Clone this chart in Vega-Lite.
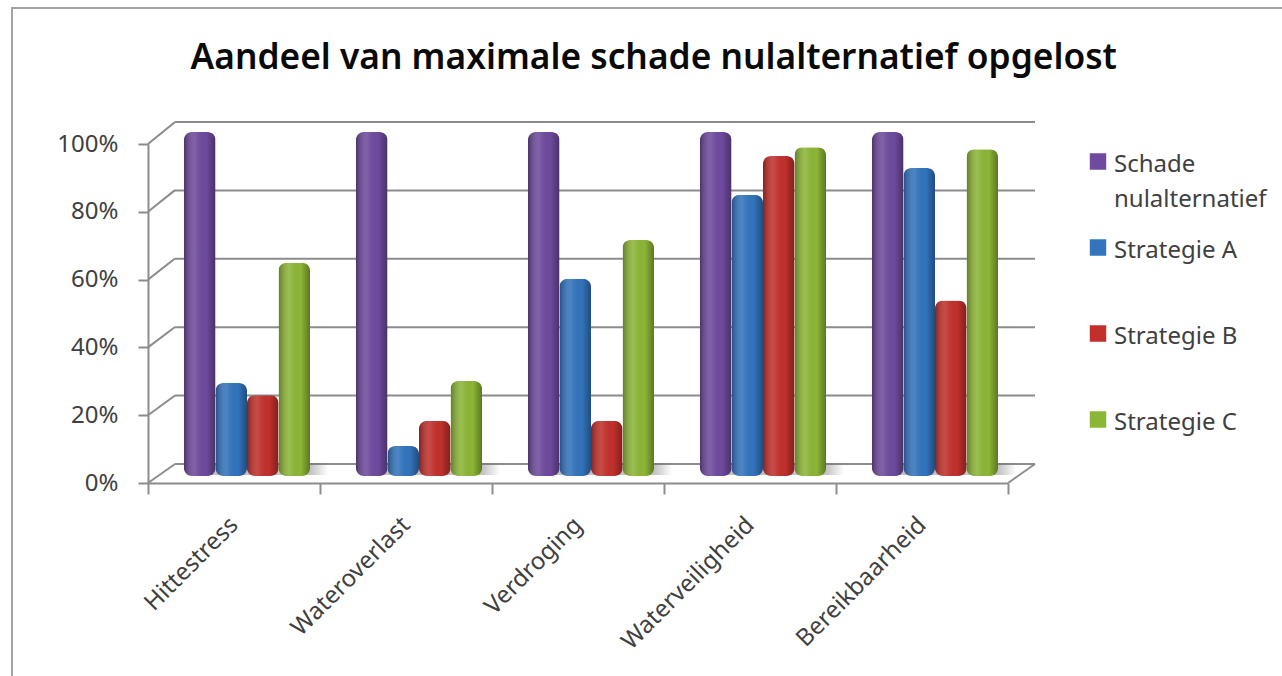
{
"$schema":"https://vega.github.io/schema/vega-lite/v6.json",
"autosize":{"type":"none"},
"padding":{"left":12,"top":8,"right":0,"bottom":0},
"width":1290,"height":680,
"background":"#ffffff",
"title":{"text":"Aandeel van maximale schade nulalternatief opgelost","anchor":"start","dx":187,"offset":-68,"font":"Noto Sans","fontSize":35.3,"fontWeight":600,"color":"#0a0a0a"},
"config":{"view":{"stroke":"#a3a3a3","strokeWidth":2},"style":{"guide-label":{"lineHeight":35}}},
"datasets":{
"bars":[
{"onderdeel":"Hittestress","reeks":"Schade nulalternatief","aandeel":1.0},
{"onderdeel":"Hittestress","reeks":"Strategie A","aandeel":0.27},
{"onderdeel":"Hittestress","reeks":"Strategie B","aandeel":0.235},
{"onderdeel":"Hittestress","reeks":"Strategie C","aandeel":0.62},
{"onderdeel":"Wateroverlast","reeks":"Schade nulalternatief","aandeel":1.0},
{"onderdeel":"Wateroverlast","reeks":"Strategie A","aandeel":0.087},
{"onderdeel":"Wateroverlast","reeks":"Strategie B","aandeel":0.16},
{"onderdeel":"Wateroverlast","reeks":"Strategie C","aandeel":0.276},
{"onderdeel":"Verdroging","reeks":"Schade nulalternatief","aandeel":1.0},
{"onderdeel":"Verdroging","reeks":"Strategie A","aandeel":0.573},
{"onderdeel":"Verdroging","reeks":"Strategie B","aandeel":0.16},
{"onderdeel":"Verdroging","reeks":"Strategie C","aandeel":0.686},
{"onderdeel":"Waterveiligheid","reeks":"Schade nulalternatief","aandeel":1.0},
{"onderdeel":"Waterveiligheid","reeks":"Strategie A","aandeel":0.817},
{"onderdeel":"Waterveiligheid","reeks":"Strategie B","aandeel":0.93},
{"onderdeel":"Waterveiligheid","reeks":"Strategie C","aandeel":0.956},
{"onderdeel":"Bereikbaarheid","reeks":"Schade nulalternatief","aandeel":1.0},
{"onderdeel":"Bereikbaarheid","reeks":"Strategie A","aandeel":0.895},
{"onderdeel":"Bereikbaarheid","reeks":"Strategie B","aandeel":0.51},
{"onderdeel":"Bereikbaarheid","reeks":"Strategie C","aandeel":0.95}
],
"cats":[{"onderdeel":"Hittestress"},{"onderdeel":"Wateroverlast"},{"onderdeel":"Verdroging"},{"onderdeel":"Waterveiligheid"},{"onderdeel":"Bereikbaarheid"}],
"grid":[{"level":0},{"level":0.2},{"level":0.4},{"level":0.6},{"level":0.8},{"level":1}],
"diag":[
{"a":0,"b":0.157,"level":0,"back":0.056},
{"a":0,"b":0.157,"level":0.2,"back":0.258},
{"a":0,"b":0.157,"level":0.4,"back":0.46},
{"a":0,"b":0.157,"level":0.6,"back":0.662},
{"a":0,"b":0.157,"level":0.8,"back":0.864},
{"a":0,"b":0.157,"level":1,"back":1.065},
{"a":5,"b":5.157,"level":0,"back":0.056}
]
},
"resolve":{"scale":{"x":"independent","y":"independent"},"axis":{"x":"independent","y":"independent"}},
"layer":[
{"data":{"name":"grid"},
 "mark":{"type":"rule","color":"#8c8c8c","strokeWidth":2},
 "encoding":{
  "x":{"datum":0.157,"type":"quantitative","scale":{"domain":[0,5.157],"range":[136,1023]},"axis":null},
  "x2":{"datum":5.157},
  "y":{"field":"level","type":"quantitative","scale":{"domain":[0,1],"range":[456,114]},"axis":null}
 }},
{"data":{"name":"diag"},
 "mark":{"type":"rule","color":"#8c8c8c","strokeWidth":2},
 "encoding":{
  "x":{"field":"a","type":"quantitative","scale":{"domain":[0,5.157],"range":[136,1023]},"axis":null},
  "x2":{"field":"b"},
  "y":{"field":"level","type":"quantitative","scale":{"domain":[0,1],"range":[475,136]},
   "axis":{"values":[0,0.2,0.4,0.6,0.8,1],"format":".0%","orient":"left","offset":-136,"title":null,"grid":false,"domainColor":"#8c8c8c","domainWidth":2,"tickColor":"#8c8c8c","tickWidth":2,"tickSize":10,"labelFont":"Noto Sans","labelFontSize":24,"labelColor":"#404040","labelPadding":20}},
  "y2":{"field":"back"}
 }},
{"data":{"name":"cats"},
 "mark":{"type":"bar","fill":{"gradient":"linear","x1":0,"x2":1,"y1":0,"y2":0,"stops":[{"offset":0,"color":"rgba(110,110,110,0.42)"},{"offset":0.86,"color":"rgba(110,110,110,0.42)"},{"offset":1,"color":"rgba(110,110,110,0)"}]}},
 "encoding":{
  "x":{"field":"onderdeel","type":"nominal","sort":null,"scale":{"range":[167,1027],"paddingInner":0.267,"paddingOuter":0.1335},"axis":null},
  "y":{"datum":0,"type":"quantitative","scale":{"domain":[0,1],"range":[467,124]},"axis":null},
  "y2":{"datum":0.035}
 }},
{"data":{"name":"bars"},
 "mark":{"type":"bar","cornerRadius":8},
 "encoding":{
  "x":{"field":"onderdeel","type":"nominal","sort":["Hittestress","Wateroverlast","Verdroging","Waterveiligheid","Bereikbaarheid"],"scale":{"range":[149,1009],"paddingInner":0.267,"paddingOuter":0.1335},"axis":null},
  "xOffset":{"field":"reeks","type":"nominal","sort":["Schade nulalternatief","Strategie A","Strategie B","Strategie C"]},
  "y":{"field":"aandeel","type":"quantitative","scale":{"domain":[0,1],"range":[468,124]},"axis":null},
  "color":{"field":"reeks","type":"nominal","sort":["Schade nulalternatief","Strategie A","Strategie B","Strategie C"],
   "scale":{"domain":["Schade nulalternatief","Strategie A","Strategie B","Strategie C"],"range":["#6f4a9e","#3374bd","#c2302c","#8cb636"]},
   "legend":{"title":null,"orient":"none","legendX":1074,"legendY":120.5,"symbolType":"M-1,-2.22H1V-0.22H-1Z","symbolSize":270,"symbolStrokeWidth":0,"symbolOpacity":1,"labelFont":"Noto Sans","labelFontSize":24,"labelColor":"#404040","labelOffset":4,"labelBaseline":"alphabetic","labelExpr":"datum.label == 'Schade nulalternatief' ? ['Schade','nulalternatief'] : datum.label","clipHeight":86,"rowPadding":0,"labelLimit":220}}
 }},
{"data":{"name":"bars"},
 "mark":{"type":"bar","cornerRadius":8,"fill":{"gradient":"linear","x1":0,"x2":1,"y1":0,"y2":0,"stops":[{"offset":0,"color":"rgba(0,0,0,0.32)"},{"offset":0.35,"color":"rgba(255,255,255,0.12)"},{"offset":0.7,"color":"rgba(0,0,0,0)"},{"offset":1,"color":"rgba(0,0,0,0.34)"}]}},
 "encoding":{
  "x":{"field":"onderdeel","type":"nominal","sort":["Hittestress","Wateroverlast","Verdroging","Waterveiligheid","Bereikbaarheid"],"scale":{"range":[149,1009],"paddingInner":0.267,"paddingOuter":0.1335},"axis":null},
  "xOffset":{"field":"reeks","type":"nominal","sort":["Schade nulalternatief","Strategie A","Strategie B","Strategie C"]},
  "y":{"field":"aandeel","type":"quantitative","scale":{"domain":[0,1],"range":[468,124]},"axis":null}
 }},
{"data":{"name":"cats"},
 "mark":{"type":"rule","opacity":0},
 "encoding":{
  "x":{"field":"onderdeel","type":"nominal","sort":null,"scale":{"range":[136,996],"paddingInner":0,"paddingOuter":0},
   "axis":{"title":null,"orient":"bottom","offset":-205,"labelAngle":-45,"labelAlign":"right","labelBaseline":"middle","labelFont":"Noto Sans","labelFontSize":24,"labelColor":"#404040","labelPadding":27,"tickBand":"extent","domainColor":"#8c8c8c","domainWidth":2,"tickColor":"#8c8c8c","tickWidth":2,"tickSize":11,"grid":false}}
 }}
]
}
